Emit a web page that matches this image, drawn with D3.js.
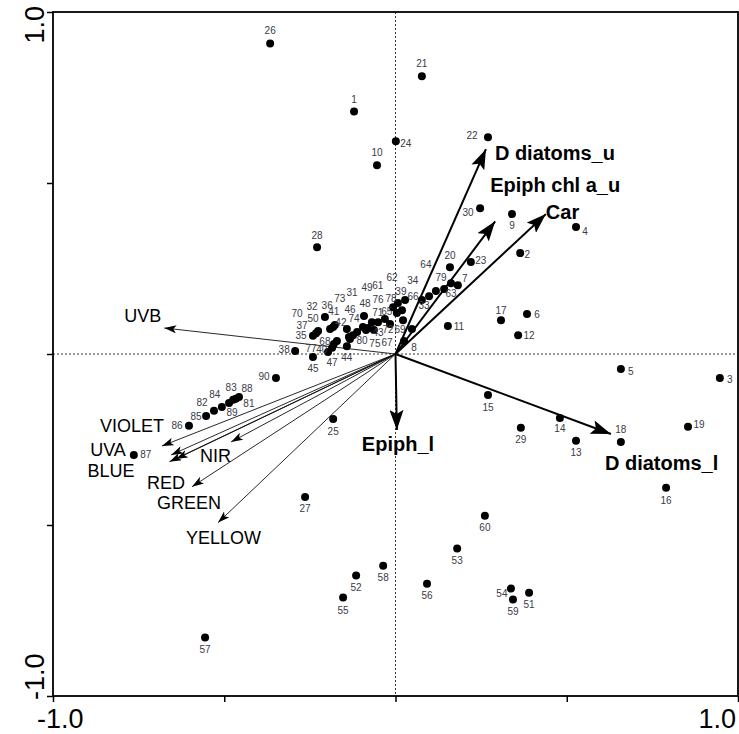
<!DOCTYPE html>
<html>
<head>
<meta charset="utf-8">
<script src="https://cdn.jsdelivr.net/npm/d3@7"></script>
<style>
  body { margin: 0; background: #fff; }
  svg text { font-family: Arial, "Liberation Sans", sans-serif; }
</style>
</head>
<body>
<div id="chart"></div>
<script>
// site scores (axis 1, axis 2)
const siteIds = d3.range(1, 91);
const siteX = [
  -0.121, 0.364, 0.947, 0.527, 0.658, 0.384, 0.182, 0.025, 0.340, -0.054,
  0.153, 0.358, 0.527, 0.480, 0.270, 0.790, 0.308, 0.658, 0.854, 0.159,
  0.077, 0.270, 0.220, 0.001, -0.182, -0.366, -0.264, -0.229, 0.366, 0.247,
  -0.095, -0.191, 0.098, 0.077, -0.241, -0.182, -0.232, -0.293, 0.007, -0.180,
  -0.177, -0.136, -0.086, -0.142, -0.241, -0.124, -0.197, -0.092, -0.080, -0.206,
  0.390, -0.115, 0.180, 0.337, -0.153, 0.092, -0.556, -0.036, 0.343, 0.261,
  -0.069, 0.019, 0.142, 0.118, 0.004, 0.028, -0.016, -0.171, 0.048, -0.226,
  -0.031, 0.022, -0.142, -0.112, -0.063, -0.051, -0.185, -0.007, 0.162, -0.133,
  -0.466, -0.530, -0.474, -0.507, -0.553, -0.603, -0.764, -0.457, -0.486, -0.349
];
const siteY = [
  0.709, 0.295, -0.070, 0.371, -0.044, 0.117, 0.201, 0.038, 0.409, 0.552,
  0.082, 0.055, -0.254, -0.187, -0.120, -0.391, 0.099, -0.257, -0.213, 0.254,
  0.812, 0.634, 0.269, 0.622, -0.190, 0.908, -0.418, 0.312, -0.216, 0.426,
  0.079, 0.073, 0.169, 0.158, 0.053, 0.079, 0.061, 0.009, 0.149, 0.029,
  0.085, 0.050, 0.070, 0.023, -0.009, 0.055, 0.006, 0.111, 0.076, 0.108,
  -0.698, -0.648, -0.569, -0.686, -0.712, -0.672, -0.829, -0.619, -0.718, -0.473,
  0.093, 0.128, 0.190, 0.184, 0.120, 0.158, 0.088, 0.038, 0.073, 0.067,
  0.102, 0.099, 0.073, 0.064, 0.070, 0.093, 0.018, 0.137, 0.207, 0.044,
  -0.131, -0.166, -0.134, -0.155, -0.181, -0.210, -0.295, -0.126, -0.143, -0.070
];

// environmental variables (thin arrows)
const envNames = ['UVB', 'VIOLET', 'UVA', 'BLUE', 'RED', 'NIR', 'GREEN', 'YELLOW'];
const envX = [-0.675, -0.682, -0.655, -0.660, -0.641, -0.480, -0.594, -0.518];
const envY = [0.076, -0.269, -0.295, -0.315, -0.307, -0.257, -0.388, -0.493];

// response variables (bold arrows)
const spNames = ['D diatoms_u', 'Epiph chl a_u', 'Car', 'D diatoms_l', 'Epiph_l'];
const spX = [0.264, 0.291, 0.439, 0.629, 0.004];
const spY = [0.599, 0.388, 0.409, -0.234, -0.222];

const axisTicks = [-1, -0.5, 0, 0.5, 1];

// label placement (pixel nudges from the mark)
const siteLabelOffset = {
  1: [0, -12], 2: [7, 1], 3: [10, 2], 4: [9, 4], 5: [10, 2], 6: [10, 1], 7: [7, -7], 8: [10, 6],
  9: [0, 11], 10: [0, -13], 11: [11, 1], 12: [11, 0], 13: [0, 12], 14: [0, 11], 15: [0, 12],
  16: [0, 13], 17: [0, -10], 18: [0, -12], 19: [11, -2], 20: [0, -12], 21: [0, -13], 22: [-16, -2],
  23: [10, -2], 24: [10, 2], 25: [0, 13], 26: [0, -13], 27: [0, 12], 28: [0, -12], 29: [0, 12],
  30: [-12, 4], 31: [-11, -34], 32: [-18, -23], 33: [-5, 9], 34: [-9, -19], 35: [-12, 0],
  36: [-6, -21], 37: [-14, -8], 38: [-11, -1], 39: [3, -12], 40: [-12, 5], 41: [-1, -13],
  42: [-8, -14], 43: [12, 2], 44: [0, 11], 45: [0, 11], 46: [-3, -26], 47: [4, 11], 48: [1, -13],
  49: [-1, -41], 50: [-12, 1], 51: [0, 12], 52: [0, 12], 53: [0, 12], 54: [-9, 5], 55: [0, 13],
  56: [0, 12], 57: [0, 12], 58: [0, 12], 59: [0, 12], 60: [0, 12], 61: [6, -37], 62: [-10, -33],
  63: [7, 4], 64: [-10, -27], 65: [-10, -1], 66: [8, -3], 67: [-3, 19], 68: [-12, 0], 69: [-12, 0],
  70: [-21, -18], 71: [-7, -7], 72: [-15, 9], 73: [-7, -31], 74: [-3, -14], 75: [1, 13],
  76: [0, -23], 77: [-21, 1], 78: [-2, -9], 79: [-10, -6], 80: [12, 2], 81: [13, 5], 82: [-12, -8],
  83: [-2, -12], 84: [-7, -13], 85: [-10, 1], 86: [-12, 0], 87: [12, 0], 88: [8, -9], 89: [3, 10],
  90: [-12, -1]
};
const envLabelOffset = {
  UVB: [-40, -6], VIOLET: [-62, -14], UVA: [-81, 1], BLUE: [-82, 15], RED: [-29, 30],
  NIR: [-31, 20], GREEN: [-35, 22], YELLOW: [-32, 21]
};
const spLabelOffset = {
  'D diatoms_u': [9, 11], 'Epiph chl a_u': [-5, -29], 'Car': [0, 5],
  'D diatoms_l': [-6, 36], 'Epiph_l': [-35, 21]
};

const W = 739, H = 734;
const svg = d3.select('#chart').append('svg')
  .attr('width', W).attr('height', H);

const x = d3.scaleLinear().domain([-1, 1]).range([53, 738]);
const y = d3.scaleLinear().domain([-1, 1]).range([696, 12]);

const defs = svg.append('defs');
defs.append('marker')
  .attr('id', 'headSmall').attr('markerUnits', 'userSpaceOnUse')
  .attr('viewBox', '0 0 12 8').attr('refX', 12).attr('refY', 4)
  .attr('markerWidth', 12).attr('markerHeight', 8).attr('orient', 'auto')
  .append('path').attr('d', 'M0,0 L12,4 L0,8 L3,4 Z').attr('fill', '#000');
defs.append('marker')
  .attr('id', 'headBig').attr('markerUnits', 'userSpaceOnUse')
  .attr('viewBox', '0 0 20 14').attr('refX', 20).attr('refY', 7)
  .attr('markerWidth', 20).attr('markerHeight', 14).attr('orient', 'auto')
  .append('path').attr('d', 'M0,0 L20,7 L0,14 L4,7 Z').attr('fill', '#000');

// centre reference lines
svg.append('line')
  .attr('x1', x(-1)).attr('x2', x(1)).attr('y1', y(0)).attr('y2', y(0))
  .attr('stroke', '#000').attr('stroke-width', 0.8).attr('stroke-dasharray', '2,2');
svg.append('line')
  .attr('x1', x(0)).attr('x2', x(0)).attr('y1', y(1)).attr('y2', y(-1))
  .attr('stroke', '#000').attr('stroke-width', 0.8).attr('stroke-dasharray', '2,2');

// axes (ticks only), box drawn separately
const xAxis = svg.append('g')
  .attr('transform', 'translate(0,' + y(-1) + ')')
  .call(d3.axisBottom(x).tickValues(axisTicks).tickFormat('').tickSize(6).tickSizeOuter(0));
const yAxis = svg.append('g')
  .attr('transform', 'translate(' + x(-1) + ',0)')
  .call(d3.axisLeft(y).tickValues(axisTicks).tickFormat('').tickSize(6).tickSizeOuter(0));
[xAxis, yAxis].forEach(g => {
  g.select('.domain').remove();
  g.selectAll('.tick line').attr('stroke', '#000').attr('stroke-width', 1.5);
});

svg.append('rect')
  .attr('x', x(-1)).attr('y', y(1))
  .attr('width', x(1) - x(-1)).attr('height', y(-1) - y(1))
  .attr('fill', 'none').attr('stroke', '#000').attr('stroke-width', 1.8);

// axis end labels
svg.append('text').attr('x', x(-1) - 16).attr('y', 728)
  .attr('font-size', 27).text('-1.0');
svg.append('text').attr('x', x(1) - 2).attr('y', 728)
  .attr('text-anchor', 'end').attr('font-size', 27).text('1.0');
svg.append('text')
  .attr('transform', 'translate(44,' + (y(1) - 6) + ') rotate(-90)')
  .attr('text-anchor', 'end').attr('font-size', 27).text('1.0');
svg.append('text')
  .attr('transform', 'translate(44,' + (y(-1) + 4) + ') rotate(-90)')
  .attr('text-anchor', 'start').attr('font-size', 27).text('-1.0');

// environmental arrows
const env = envNames.map((n, i) => ({ name: n, x: envX[i], y: envY[i] }));
svg.append('g').selectAll('line').data(env).enter().append('line')
  .attr('x1', x(0)).attr('y1', y(0))
  .attr('x2', d => x(d.x)).attr('y2', d => y(d.y))
  .attr('stroke', '#111').attr('stroke-width', 0.9)
  .attr('marker-end', 'url(#headSmall)');
svg.append('g').selectAll('text').data(env).enter().append('text')
  .attr('x', d => x(d.x) + envLabelOffset[d.name][0])
  .attr('y', d => y(d.y) + envLabelOffset[d.name][1])
  .attr('font-size', 18).attr('fill', '#000')
  .text(d => d.name);

// site points
const sites = siteIds.map((id, i) => ({ id: id, x: siteX[i], y: siteY[i] }));
svg.append('g').selectAll('circle').data(sites).enter().append('circle')
  .attr('cx', d => x(d.x)).attr('cy', d => y(d.y))
  .attr('r', 4).attr('fill', '#000');
svg.append('g').selectAll('text').data(sites).enter().append('text')
  .attr('x', d => x(d.x) + siteLabelOffset[d.id][0])
  .attr('y', d => y(d.y) + siteLabelOffset[d.id][1] + 3.5)
  .attr('text-anchor', 'middle')
  .attr('font-size', 10).attr('fill', '#3a3a48')
  .text(d => d.id);

// response arrows
const sp = spNames.map((n, i) => ({ name: n, x: spX[i], y: spY[i] }));
svg.append('g').selectAll('line').data(sp).enter().append('line')
  .attr('x1', x(0)).attr('y1', y(0))
  .attr('x2', d => x(d.x)).attr('y2', d => y(d.y))
  .attr('stroke', '#000').attr('stroke-width', 2)
  .attr('marker-end', 'url(#headBig)');
svg.append('g').selectAll('text').data(sp).enter().append('text')
  .attr('x', d => x(d.x) + spLabelOffset[d.name][0])
  .attr('y', d => y(d.y) + spLabelOffset[d.name][1])
  .attr('font-size', 20).attr('font-weight', 'bold').attr('fill', '#000')
  .text(d => d.name);
</script>
</body>
</html>
